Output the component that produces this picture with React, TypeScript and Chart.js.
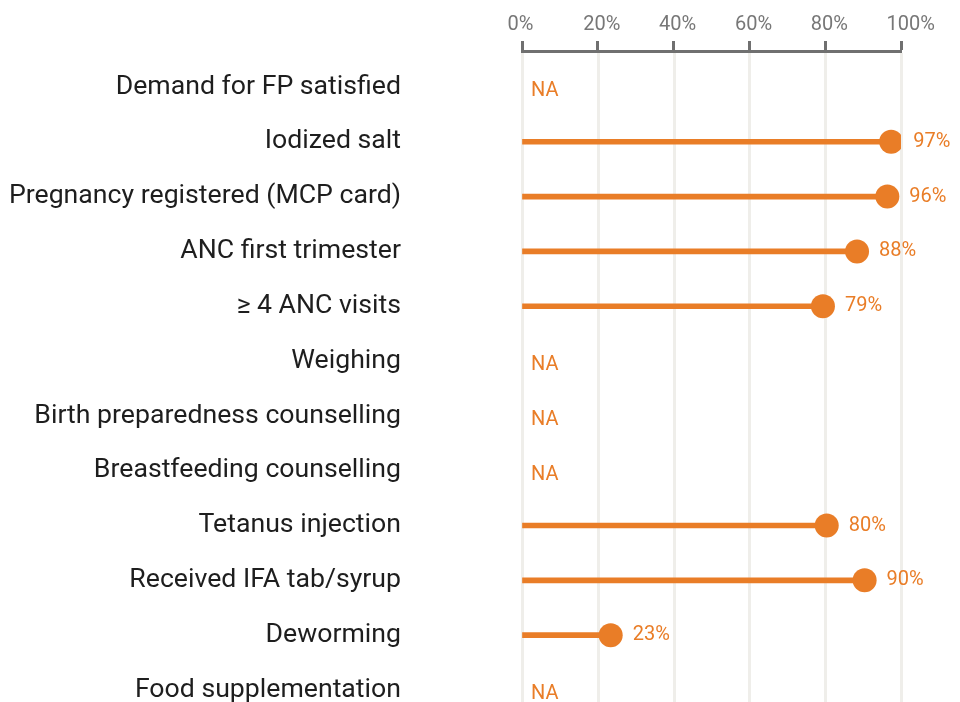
import React, { useEffect, useRef } from "react";
import { Chart, registerables } from "chart.js";

Chart.register(...registerables);

const categories: string[] = [
  "Demand for FP satisfied",
  "Iodized salt",
  "Pregnancy registered (MCP card)",
  "ANC first trimester",
  "≥ 4 ANC visits",
  "Weighing",
  "Birth preparedness counselling",
  "Breastfeeding counselling",
  "Tetanus injection",
  "Received IFA tab/syrup",
  "Deworming",
  "Food supplementation",
];

const values: (number | null)[] = [null, 97.4, 96.4, 88.4, 79.4, null, null, null, 80.4, 90.4, 23.4, null];

const xTicks: number[] = [0, 20, 40, 60, 80, 100];

const ORANGE = "#e97d27";

export default function App() {
  const ref = useRef<HTMLCanvasElement | null>(null);

  useEffect(() => {
    document.body.style.margin = "0";
    const canvas = ref.current!;
    const points = values
      .map((v, i) => (v === null ? null : { x: v, y: i }))
      .filter((p) => p !== null) as { x: number; y: number }[];

    const gridPlugin = {
      id: "gridLines",
      beforeDatasetsDraw(chart: any) {
        const { ctx, chartArea, scales } = chart;
        ctx.save();
        ctx.strokeStyle = "#efeeea";
        ctx.lineWidth = 3;
        xTicks.forEach((t) => {
          const x = Math.round(scales.x.getPixelForValue(t)) + 0.5;
          ctx.beginPath();
          ctx.moveTo(x, chartArea.top + 2);
          ctx.lineTo(x, chart.height);
          ctx.stroke();
        });
        ctx.restore();
      },
    };

    const labelPlugin = {
      id: "valueLabels",
      afterDatasetsDraw(chart: any) {
        const { ctx, scales } = chart;
        ctx.save();
        ctx.fillStyle = ORANGE;
        ctx.font = "20px Roboto";
        ctx.textAlign = "left";
        ctx.textBaseline = "middle";
        values.forEach((v, i) => {
          const y = scales.y.getPixelForValue(i);
          if (v === null) {
            ctx.fillText("NA", scales.x.getPixelForValue(0) + 9, y + 4);
          } else {
            ctx.fillText(Math.round(v) + "%", scales.x.getPixelForValue(v) + 22, y);
          }
        });
        ctx.restore();
      },
    };

    const chart = new Chart(canvas, {
      type: "bar",
      data: {
        datasets: [
          {
            type: "bar",
            data: points as any,
            backgroundColor: ORANGE,
            borderWidth: 0,
            barThickness: 5,
            order: 2,
          } as any,
          {
            type: "scatter",
            data: points as any,
            backgroundColor: ORANGE,
            borderWidth: 0,
            pointRadius: 12,
            pointHoverRadius: 12,
            order: 1,
          } as any,
        ],
      },
      options: {
        indexAxis: "y",
        animation: false,
        responsive: false,
        maintainAspectRatio: false,
        events: [],
        layout: { autoPadding: false, padding: { top: 0, left: 0, right: 59, bottom: 0 } },
        plugins: {
          legend: { display: false },
          tooltip: { enabled: false },
        },
        scales: {
          x: {
            type: "linear",
            position: "top",
            min: 0,
            max: 100,
            afterFit(scale: any) {
              scale.height = 51;
              scale.paddingLeft = 0;
              scale.paddingRight = 0;
            },
            ticks: {
              stepSize: 20,
              align: "start",
              labelOffset: -14.5,
              padding: 4,
              color: "#777777",
              font: { family: "Roboto", size: 20 },
              callback: (v: any) => v + "%",
            },
            grid: {
              display: true,
              drawOnChartArea: false,
              drawTicks: true,
              tickLength: 10,
              tickWidth: 3,
              tickColor: "#707070",
            },
            border: { display: true, color: "#707070", width: 3 },
          },
          y: {
            type: "linear",
            reverse: true,
            offset: false,
            min: -0.656,
            max: 11.219,
            afterFit(scale: any) {
              scale.width = 522;
              scale.paddingTop = 0;
              scale.paddingBottom = 0;
            },
            ticks: {
              stepSize: 1,
              includeBounds: false,
              autoSkip: false,
              padding: 0,
              color: "#1e1e1e",
              font: { family: "Roboto", size: 26.67 },
              callback: (v: any) => (Number.isInteger(v) && categories[v] !== undefined ? categories[v] : ""),
            },
            grid: { display: false, drawTicks: true, tickLength: 121 },
            border: { display: false },
          },
        },
      } as any,
      plugins: [gridPlugin, labelPlugin],
    });

    return () => chart.destroy();
  }, []);

  return <canvas ref={ref} width={960} height={702} style={{ display: "block" }} />;
}
